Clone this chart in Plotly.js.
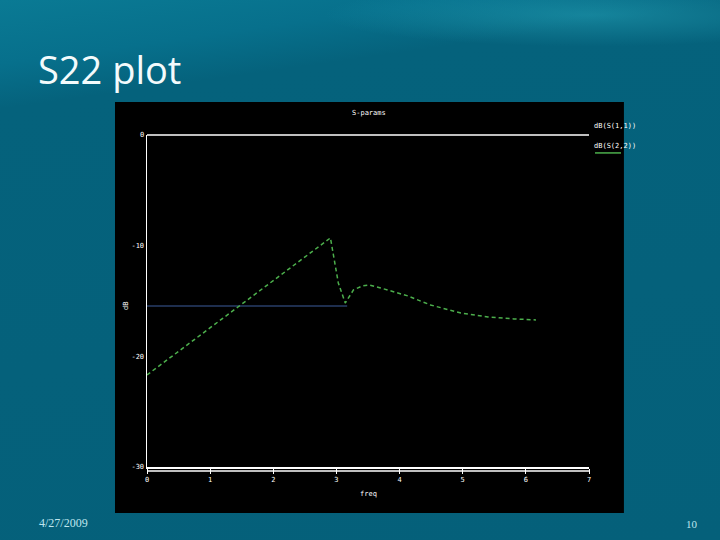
<!DOCTYPE html>
<html>
<head>
<meta charset="utf-8">
<script src="https://cdn.plot.ly/plotly-3.0.1.min.js"></script>
<style>
html,body{margin:0;padding:0;width:720px;height:540px;overflow:hidden;}
body{background:
  radial-gradient(ellipse 380px 45px at 590px 15px, rgba(40,170,190,0.45), rgba(0,0,0,0) 70%),
  linear-gradient(172deg, #0a7a94 0%, #07708c 10%, #05627c 17%, #05607a 100%);}
#chart{width:720px;height:540px;}
</style>
</head>
<body>
<div id="chart"></div>
<script>
// Data
const freqS11 = [0, 3.17];
const dbS11 = [-15.45, -15.45];

const freqS22 = [0, 1.317, 2.905, 3.03, 3.14, 3.27, 3.41, 3.51, 3.70, 4.13, 4.49, 4.97, 5.40, 5.81, 6.16];
const dbS22 = [-21.68, -16.08, -9.30, -13.37, -15.18, -14.00, -13.64, -13.55, -13.82, -14.54, -15.36, -16.08, -16.44, -16.62, -16.71];

const xTickVals = [0, 1, 2, 3, 4, 5, 6, 7];
const xTickText = ['0', '1', '2', '3', '4', '5', '6', '7'];
const yTickVals = [0, -10, -20, -30];
const yTickText = ['0', '-10', '-20', '-30'];

const seriesNames = ['dB(S(1,1))', 'dB(S(2,2))'];

const traces = [
  {x: freqS11, y: dbS11, type: 'scatter', mode: 'lines', name: seriesNames[0],
   line: {color: '#3d5c9c', width: 1.2}, showlegend: false},
  {x: freqS22, y: dbS22, type: 'scatter', mode: 'lines', name: seriesNames[1],
   line: {color: '#4caf4c', width: 1.5, dash: '4px,3px'}, showlegend: false}
];

const axFont = {family: 'DejaVu Sans Mono', size: 7, color: '#ffffff'};

const layout = {
  width: 720, height: 540,
  paper_bgcolor: 'rgba(0,0,0,0)',
  plot_bgcolor: '#000000',
  margin: {l: 147, r: 131, t: 135, b: 73},
  xaxis: {range: [0, 7], tickvals: xTickVals, ticktext: xTickText,
    showgrid: false, zeroline: false, showline: true, linecolor: '#ffffff', linewidth: 1.5,
    ticks: 'outside', ticklen: 5, tickcolor: '#ffffff', tickfont: axFont, mirror: false},
  yaxis: {range: [-30, 0], tickvals: yTickVals, ticktext: yTickText,
    showgrid: false, zeroline: false, showline: true, linecolor: '#ffffff', linewidth: 1.5,
    ticks: '', tickfont: axFont},
  shapes: [
    {type: 'rect', xref: 'paper', yref: 'paper', x0: -0.0724, x1: 1.079, y0: -0.1386, y1: 1.0994,
     fillcolor: '#000000', line: {width: 0}, layer: 'below'},
    {type: 'line', xref: 'paper', yref: 'paper', x0: 0, x1: 1.0, y0: 1, y1: 1,
     line: {color: '#ffffff', width: 1.5}},
    {type: 'line', xref: 'paper', yref: 'paper', x0: 0, x1: 1.0, y0: -0.012, y1: -0.012,
     line: {color: '#ffffff', width: 1.5}},
    {type: 'line', xref: 'paper', yref: 'paper', x0: 1.0136, x1: 1.0724, y0: 0.946, y1: 0.946,
     line: {color: '#4caf4c', width: 1.5}}
  ],
  annotations: [
    {text: 'S22 plot', xref: 'paper', yref: 'paper', x: -0.252, y: 1.198, xanchor: 'left', yanchor: 'middle',
     showarrow: false, font: {family: 'Open Sans, sans-serif', size: 38, color: '#f4fbfc'}},
    {text: 'S-params', xref: 'paper', yref: 'paper', x: 0.502, y: 1.085, showarrow: false, font: axFont},
    {text: seriesNames[0], xref: 'paper', yref: 'paper', x: 1.0068, y: 1.044, xanchor: 'left', showarrow: false, font: axFont},
    {text: seriesNames[1], xref: 'paper', yref: 'paper', x: 1.0068, y: 0.985, xanchor: 'left', showarrow: false, font: axFont},
    {text: 'dB', xref: 'paper', yref: 'paper', x: -0.061, y: 0.485, textangle: -90, showarrow: false, font: axFont},
    {text: 'freq', xref: 'paper', yref: 'paper', x: 0.502, y: -0.1, showarrow: false, font: axFont},
    {text: '4/27/2009', xref: 'paper', yref: 'paper', x: -0.249, y: -0.196, xanchor: 'left', showarrow: false,
     font: {family: 'Liberation Serif, serif', size: 12, color: '#bfe6ee'}},
    {text: '10', xref: 'paper', yref: 'paper', x: 1.215, y: -0.196, xanchor: 'left', showarrow: false,
     font: {family: 'Liberation Serif, serif', size: 11, color: '#bfe6ee'}}
  ]
};

Plotly.newPlot('chart', traces, layout, {displayModeBar: false, staticPlot: true});
</script>
</body>
</html>
